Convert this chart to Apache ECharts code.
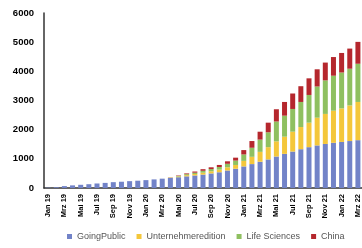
<!DOCTYPE html>
<html>
<head>
<meta charset="utf-8">
<script src="https://cdn.jsdelivr.net/npm/echarts@6/dist/echarts.min.js"></script>
<style>
  html, body { margin: 0; padding: 0; background: #fff; }
  #main { width: 362px; height: 248px; }
</style>
</head>
<body>
<div id="main"></div>
<script>
var months = [
  'Jan 19', 'Feb 19', 'Mrz 19', 'Apr 19', 'Mai 19', 'Jun 19', 'Jul 19', 'Aug 19', 'Sep 19', 'Okt 19', 'Nov 19', 'Dez 19',
  'Jan 20', 'Feb 20', 'Mrz 20', 'Apr 20', 'Mai 20', 'Jun 20', 'Jul 20', 'Aug 20', 'Sep 20', 'Okt 20', 'Nov 20', 'Dez 20',
  'Jan 21', 'Feb 21', 'Mrz 21', 'Apr 21', 'Mai 21', 'Jun 21', 'Jul 21', 'Aug 21', 'Sep 21', 'Okt 21', 'Nov 21', 'Dez 21',
  'Jan 22', 'Feb 22', 'Mrz 22'
];

var goingPublic = [10, 25, 65, 90, 110, 130, 155, 175, 200, 215, 235, 250,
  270, 295, 320, 345, 370, 400, 430, 460, 500, 540, 600, 660,
  740, 820, 900, 980, 1080, 1170, 1250, 1330, 1400, 1460, 1510, 1550,
  1580, 1610, 1640];

var unternehmeredition = [0, 0, 0, 0, 0, 0, 0, 0, 0, 0, 0, 0,
  0, 0, 0, 10, 25, 40, 50, 65, 75, 90, 110, 130,
  190, 250, 340, 420, 520, 590, 680, 760, 840, 950, 1030, 1100,
  1150, 1220, 1310];

var lifeSciences = [0, 0, 0, 0, 0, 0, 0, 0, 0, 0, 0, 0,
  0, 0, 0, 5, 20, 35, 45, 65, 75, 90, 120, 150,
  220, 310, 420, 510, 680, 720, 780, 860, 950, 1070, 1150, 1200,
  1230, 1260, 1310];

var china = [0, 0, 0, 0, 0, 0, 0, 0, 0, 0, 0, 0,
  0, 0, 0, 5, 15, 25, 40, 55, 60, 70, 85, 100,
  150, 230, 270, 330, 420, 470, 530, 540, 570, 590, 610, 640,
  670, 690, 750];

var colors = ['#7283c8', '#f4c73b', '#8fc060', '#b5272d'];

var myChart = echarts.init(document.getElementById('main'));

function barSeries(name, data) {
  return {
    name: name,
    type: 'bar',
    stack: 'total',
    barWidth: 5,
    data: data
  };
}

var option = {
  animation: false,
  color: colors,
  legend: {
    bottom: 2,
    left: 62,
    icon: 'rect',
    itemWidth: 5,
    itemHeight: 5,
    itemGap: 11,
    textStyle: { fontSize: 9, color: '#555', fontFamily: 'Liberation Sans' },
    data: ['GoingPublic', 'Unternehmeredition', 'Life Sciences', 'China']
  },
  grid: {
    left: 44,
    right: -4,
    top: 13,
    bottom: 60
  },
  xAxis: {
    type: 'category',
    data: months,
    axisLine: { lineStyle: { color: '#333', width: 1.5 } },
    axisTick: { show: false },
    axisLabel: {
      interval: 1,
      rotate: 90,
      fontSize: 7.5,
      fontWeight: 'bold',
      color: '#000',
      fontFamily: 'Liberation Sans',
      margin: 6
    }
  },
  yAxis: {
    type: 'value',
    min: 0,
    max: 6000,
    interval: 1000,
    axisLine: { show: true, lineStyle: { color: '#333', width: 1.5 } },
    axisTick: { show: false },
    splitLine: { show: false },
    axisLabel: {
      fontSize: 9.5,
      fontWeight: 'bold',
      color: '#000',
      fontFamily: 'Liberation Sans',
      margin: 10,
      formatter: function (v) { return String(v); }
    }
  },
  series: [
    barSeries('GoingPublic', goingPublic),
    barSeries('Unternehmeredition', unternehmeredition),
    barSeries('Life Sciences', lifeSciences),
    barSeries('China', china)
  ]
};

myChart.setOption(option);
</script>
</body>
</html>
